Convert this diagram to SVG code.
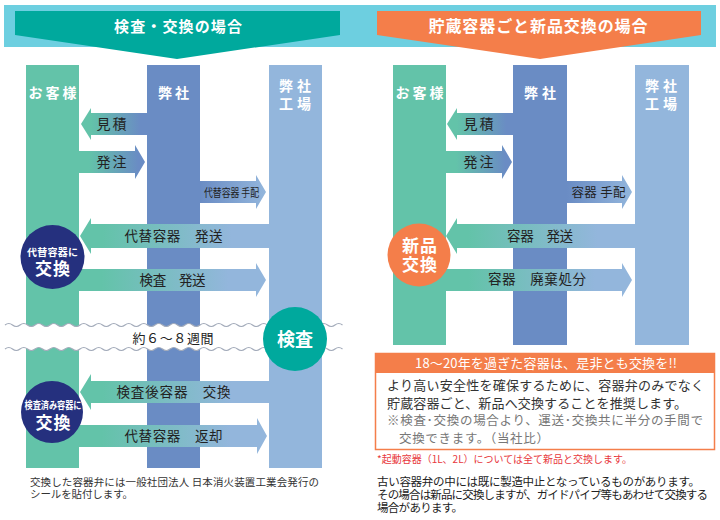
<svg xmlns="http://www.w3.org/2000/svg" xmlns:xlink="http://www.w3.org/1999/xlink" width="720" height="520" viewBox="0 0 720 520">
<style>
text{font-family:"Noto Sans CJK JP","Noto Sans",sans-serif}
.ttl{font-size:15px;font-weight:bold;fill:#fff;text-anchor:middle}
.col{font-size:14px;font-weight:bold;fill:#fff;text-anchor:middle}
.al{font-size:13.5px;fill:#222;text-anchor:middle}
.cir{font-weight:bold;fill:#fff;text-anchor:middle}
.wave{fill:none;stroke:#a3abba;stroke-width:1.2}
.c1{fill:#63c3a9}.c2{fill:#6a8cc4}.c3{fill:#93b6dc}
</style>
<defs>
<linearGradient id="gTB" x1="0" y1="0" x2="1" y2="0"><stop offset="0.15" stop-color="#63c3a9"/><stop offset="0.9" stop-color="#6a8cc4"/></linearGradient>
<linearGradient id="gBL" x1="0" y1="0" x2="1" y2="0"><stop offset="0" stop-color="#6a8cc4"/><stop offset="1" stop-color="#93b6dc"/></linearGradient>
<linearGradient id="gTL" x1="0" y1="0" x2="1" y2="0"><stop offset="0.12" stop-color="#63c3a9"/><stop offset="0.8" stop-color="#93b6dc"/></linearGradient>
<path id="wv" d="M5,0 q3.75,-3 7.5,0 t7.5,0 t7.5,0 t7.5,0 t7.5,0 t7.5,0 t7.5,0 t7.5,0 t7.5,0 t7.5,0 t7.5,0 t7.5,0 t7.5,0 t7.5,0 t7.5,0 t7.5,0 t7.5,0 t7.5,0 t7.5,0 t7.5,0 t7.5,0 t7.5,0 t7.5,0 t7.5,0 t7.5,0 t7.5,0 t7.5,0 t7.5,0 t7.5,0 t7.5,0 t7.5,0 t7.5,0 t7.5,0 t7.5,0 t7.5,0 t7.5,0 t7.5,0 t7.5,0 t7.5,0 t7.5,0 t7.5,0 t7.5,0 t7.5,0 t7.5,0 t7.5,0"/>
</defs>
<rect width="720" height="520" fill="#fff"/>

<!-- banners -->
<g id="banner">
<rect x="4" y="5" width="712" height="42" fill="#6dcfe0"/>
<polygon points="15,11 340,11 340,35 177,59 15,35" fill="#00a99d"/>
<text class="ttl" x="178" y="32" textLength="128">検査・交換の場合</text>
<polygon points="377,11 701,11 701,35 540,59 377,35" fill="#f47e4a"/>
<text class="ttl" x="538" y="32" textLength="219" style="font-size:16px">貯蔵容器ごと新品交換の場合</text>
</g>

<!-- left columns -->
<g id="L-customer"><rect class="c1" x="26" y="65" width="53" height="403"/><text class="col" x="52.5" y="98" textLength="48">お客様</text></g>
<g id="L-company"><rect class="c2" x="147" y="65" width="53" height="403"/><text class="col" x="173.5" y="98" textLength="31">弊社</text></g>
<g id="L-factory"><rect class="c3" x="269" y="65" width="53" height="403"/><text class="col" x="295" y="91" textLength="32">弊社</text><text class="col" x="295" y="109" textLength="32">工場</text></g>

<!-- right columns -->
<g id="R-customer"><rect class="c1" x="393" y="65" width="53" height="280"/><text class="col" x="419.5" y="98" textLength="48">お客様</text></g>
<g id="R-company"><rect class="c2" x="513" y="65" width="54" height="280"/><text class="col" x="540" y="98" textLength="32">弊社</text></g>
<g id="R-factory"><rect class="c3" x="635" y="65" width="54" height="280"/><text class="col" x="661" y="91" textLength="32">弊社</text><text class="col" x="661" y="109" textLength="32">工場</text></g>

<g id="connectors">
<!-- left -->
<polygon points="81,124 91,108 91,113 147,113 147,135 91,135 91,140" fill="url(#gTB)"/>
<polygon points="79,151 135,151 135,145 145,162 135,179 135,173 79,173" fill="url(#gTB)"/>
<polygon points="200,181 256,181 256,175 266,192 256,209 256,203 200,203" fill="url(#gBL)"/>
<polygon points="80,236 91,218 91,224 269,224 269,248 91,248 91,254" fill="url(#gTL)"/>
<polygon points="79,269 256,269 256,263 266,280 256,297 256,291 79,291" fill="url(#gTL)"/>
<polygon points="80,392 91,374 91,381 269,381 269,403 91,403 91,410" fill="url(#gTL)"/>
<polygon points="79,425 257,425 257,418 267,436 257,454 257,447 79,447" fill="url(#gTL)"/>
<!-- right -->
<polygon points="447,124 457,108 457,113 513,113 513,135 457,135 457,140" fill="url(#gTB)"/>
<polygon points="446,151 502,151 502,145 512,162 502,179 502,173 446,173" fill="url(#gTB)"/>
<polygon points="567,181 622,181 622,175 632,192 622,209 622,203 567,203" fill="url(#gBL)"/>
<polygon points="446,236 457,218 457,224 635,224 635,248 457,248 457,254" fill="url(#gTL)"/>
<polygon points="446,269 622,269 622,263 632,280 622,297 622,291 446,291" fill="url(#gTL)"/>

<text class="al" x="111.5" y="129" textLength="30" style="font-size:14px">見積</text>
<text class="al" x="111.5" y="167" textLength="30" style="font-size:14px">発注</text>
<text x="204" y="197" textLength="55" lengthAdjust="spacingAndGlyphs" style="font-size:11.5px;fill:#222">代替容器 手配</text>
<text class="al" x="173.5" y="241" textLength="98">代替容器　発送</text>
<text class="al" x="172.5" y="285" textLength="66">検査　発送</text>
<text class="al" x="173.5" y="397" textLength="114">検査後容器　交換</text>
<text class="al" x="173.5" y="441" textLength="98">代替容器　返却</text>

<text class="al" x="478.5" y="129" textLength="30" style="font-size:14px">見積</text>
<text class="al" x="478.5" y="167" textLength="30" style="font-size:14px">発注</text>
<text class="al" x="598.5" y="197" textLength="54" style="font-size:12.5px">容器 手配</text>
<text class="al" x="540" y="241" textLength="66">容器　発送</text>
<text class="al" x="537" y="284" textLength="98">容器　廃棄処分</text>
</g>

<!-- break band -->
<g id="break">
<path fill="#fff" d="M5,325 q3.75,-3 7.5,0 t7.5,0 t7.5,0 t7.5,0 t7.5,0 t7.5,0 t7.5,0 t7.5,0 t7.5,0 t7.5,0 t7.5,0 t7.5,0 t7.5,0 t7.5,0 t7.5,0 t7.5,0 t7.5,0 t7.5,0 t7.5,0 t7.5,0 t7.5,0 t7.5,0 t7.5,0 t7.5,0 t7.5,0 t7.5,0 t7.5,0 t7.5,0 t7.5,0 t7.5,0 t7.5,0 t7.5,0 t7.5,0 t7.5,0 t7.5,0 t7.5,0 t7.5,0 t7.5,0 t7.5,0 t7.5,0 t7.5,0 t7.5,0 t7.5,0 t7.5,0 t7.5,0 L342.5,349 q-3.75,-3 -7.5,0 t-7.5,0 t-7.5,0 t-7.5,0 t-7.5,0 t-7.5,0 t-7.5,0 t-7.5,0 t-7.5,0 t-7.5,0 t-7.5,0 t-7.5,0 t-7.5,0 t-7.5,0 t-7.5,0 t-7.5,0 t-7.5,0 t-7.5,0 t-7.5,0 t-7.5,0 t-7.5,0 t-7.5,0 t-7.5,0 t-7.5,0 t-7.5,0 t-7.5,0 t-7.5,0 t-7.5,0 t-7.5,0 t-7.5,0 t-7.5,0 t-7.5,0 t-7.5,0 t-7.5,0 t-7.5,0 t-7.5,0 t-7.5,0 t-7.5,0 t-7.5,0 t-7.5,0 t-7.5,0 t-7.5,0 t-7.5,0 t-7.5,0 t-7.5,0 Z"/>
<use xlink:href="#wv" href="#wv" class="wave" transform="translate(0,325)"/>
<use xlink:href="#wv" href="#wv" class="wave" transform="translate(0,349)"/>
<text class="al" x="173" y="343" textLength="81" style="font-size:13px">約６～８週間</text>
</g>

<!-- circles -->
<g id="swap1"><circle cx="52.5" cy="257" r="32" fill="#25307e"/><text class="cir" x="52.5" y="256" textLength="51" style="font-size:10px">代替容器に</text><text class="cir" x="52.5" y="275" textLength="35" style="font-size:17px">交換</text></g>
<g id="inspect"><circle cx="295" cy="339" r="32" fill="#00a99d"/><text class="cir" x="295" y="345.5" textLength="36" style="font-size:18px">検査</text></g>
<g id="swap2"><circle cx="52" cy="412" r="31" fill="#25307e"/><text class="cir" x="53" y="409" textLength="57" lengthAdjust="spacingAndGlyphs" style="font-size:10px">検査済み容器に</text><text class="cir" x="53" y="429" textLength="35" style="font-size:17px">交換</text></g>
<g id="newswap"><circle cx="419" cy="255" r="31.5" fill="#f47e4a"/><text class="cir" x="419.5" y="252" textLength="35" style="font-size:17px">新品</text><text class="cir" x="419.5" y="270.5" textLength="35" style="font-size:17px">交換</text></g>

<!-- footnote left -->
<g id="note-left" style="font-size:10.5px;fill:#333">
<text x="30" y="486" textLength="289">交換した容器弁には一般社団法人 日本消火装置工業会発行の</text>
<text x="30" y="498" textLength="103">シールを貼付します。</text>
</g>

<!-- right info box -->
<g id="info-box">
<rect x="375.5" y="353.5" width="339" height="96" fill="#fff" stroke="#f47e4a" stroke-width="1.5"/>
<rect x="375" y="353" width="340" height="20" fill="#f47e4a"/>
<text x="415" y="368" textLength="262" style="font-size:13px;fill:#fff">18～20年を過ぎた容器は、是非とも交換を!!</text>
<text x="387" y="390" textLength="317" style="font-size:13px;fill:#333">より高い安全性を確保するために、容器弁のみでなく</text>
<text x="387" y="408" textLength="300" style="font-size:13px;fill:#333">貯蔵容器ごと、新品へ交換することを推奨します。</text>
<text x="387" y="425" textLength="316" style="font-size:12.5px;fill:#777">※検査･交換の場合より、運送･交換共に半分の手間で</text>
<text x="399" y="443" textLength="150" style="font-size:12.5px;fill:#777">交換できます。（当社比）</text>
</g>
<g id="note-right">
<text x="377" y="463" textLength="255" style="font-size:10px;fill:#e8383d">*起動容器（1L、2L）については全て新品と交換します。</text>
<text x="377" y="486" textLength="323" style="font-size:11.5px;fill:#222">古い容器弁の中には既に製造中止となっているものがあります。</text>
<text x="377" y="499" textLength="331" style="font-size:11.5px;fill:#222">その場合は新品に交換しますが、ガイドパイプ等もあわせて交換する</text>
<text x="377" y="512" textLength="86" style="font-size:11.5px;fill:#222">場合があります。</text>
</g>
</svg>
